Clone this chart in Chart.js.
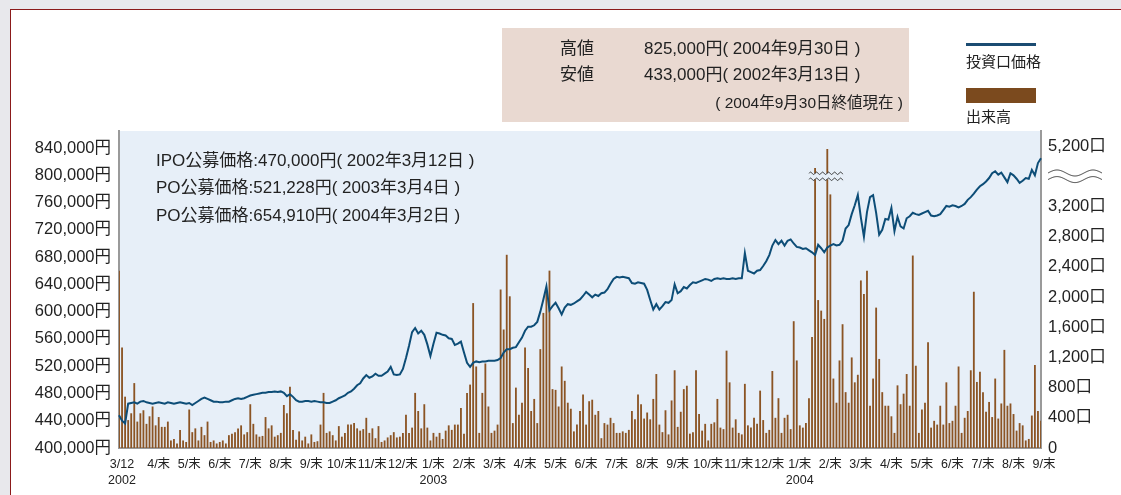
<!DOCTYPE html>
<html lang="ja">
<head>
<meta charset="utf-8">
<script src="https://cdn.jsdelivr.net/npm/chart.js@4.4.1/dist/chart.umd.min.js"></script>
<style>
  html, body { margin: 0; padding: 0; }
  body { width: 1121px; height: 495px; background: #e8e8ec; position: relative; overflow: hidden;
         font-family: 'Liberation Sans', 'Noto Sans CJK JP', sans-serif; color: #222; }
  #panel { position: absolute; left: 10px; top: 9px; width: 1200px; height: 600px; background: #fff;
           border-left: 1px solid #8b1a1a; border-top: 1px solid #8b1a1a; }
  #chart { position: absolute; left: 0; top: 0; }
  .t { position: absolute; white-space: nowrap; line-height: 20px; }
  #info { position: absolute; left: 502px; top: 28px; width: 407px; height: 94px; background: #e9d9d1; }
  .big { font-size: 17px; }
  .note { font-size: 17px; }
</style>
</head>
<body>
<div id="panel"></div>
<canvas id="chart" width="1121" height="495"></canvas>

<div id="info"></div>
<div class="t big" style="left:560px;top:39px">高値</div>
<div class="t big" style="left:644px;top:39px">825,000円( 2004年9月30日 )</div>
<div class="t big" style="left:560px;top:65px">安値</div>
<div class="t big" style="left:644px;top:65px">433,000円( 2002年3月13日 )</div>
<div class="t" style="right:218px;top:93px;font-size:15.5px">( 2004年9月30日終値現在 )</div>

<div style="position:absolute;left:966px;top:43px;width:70px;height:3px;background:#1b4c72"></div>
<div class="t" style="left:966px;top:52px;font-size:15px">投資口価格</div>
<div style="position:absolute;left:966px;top:88px;width:70px;height:15px;background:#7b4a1e"></div>
<div class="t" style="left:966px;top:107px;font-size:15px">出来高</div>

<div class="t note" style="left:156px;top:151px">IPO公募価格:470,000円( 2002年3月12日 )</div>
<div class="t note" style="left:156px;top:178px">PO公募価格:521,228円( 2003年3月4日 )</div>
<div class="t note" style="left:156px;top:206px">PO公募価格:654,910円( 2004年3月2日 )</div>

<script>
// 投資口価格 (千円), ほぼ3営業日ごと, 2002/3/12 - 2004/9/30
const price = [
  448,440,436,465,466,467,465,468,469,467,
  466,465,466,467,466,465,467,466,465,466,
  467,466,465,466,463,466,469,472,474,472,
  470,468,468,467,467,468,468,470,472,473,
  472,473,475,477,478,479,480,481,481,482,
  482,483,482,483,481,476,479,475,470,468,
  468,469,469,468,469,468,467,467,466,466,
  468,470,473,475,477,481,483,487,492,495,
  502,507,503,505,509,506,506,509,512,519,
  508,507,508,516,532,550,570,576,568,572,
  566,552,535,553,569,568,566,565,561,560,
  551,553,556,540,525,519,525,527,526,527,
  527,528,528,528,529,532,540,545,545,547,
  548,555,562,572,578,578,580,585,600,618,
  637,602,608,613,605,596,606,611,610,612,
  615,618,623,629,625,621,625,623,627,628,
  633,641,648,651,650,651,650,649,642,641,
  643,642,641,632,617,603,611,603,608,614,
  613,617,640,627,630,636,634,639,643,642,
  644,646,648,647,645,648,649,648,649,648,
  648,649,648,649,649,686,660,658,656,660,
  661,667,674,683,697,705,699,704,697,704,
  706,700,695,694,692,693,690,687,683,698,
  693,687,694,697,699,697,698,704,722,727,
  743,756,771,738,710,746,768,771,745,713,
  720,736,735,752,718,739,725,722,737,740,
  745,743,742,744,746,748,741,740,741,743,
  749,755,754,756,755,753,755,758,764,768,
  773,779,784,787,791,796,803,806,801,804,
  797,790,803,800,795,789,792,796,795,808,
  800,818,825
];

// 出来高 (口)
const volume = [
  2350,1330,680,370,460,860,350,460,500,320,
  420,550,300,410,280,280,350,100,120,60,
  240,100,80,510,210,260,100,280,170,350,
  80,100,60,80,100,60,170,190,210,260,
  300,180,210,580,320,180,150,160,410,260,
  300,150,170,200,570,460,810,240,110,220,
  100,150,60,180,80,90,310,730,200,220,
  170,100,290,150,200,310,310,330,260,230,
  250,400,200,260,130,290,80,100,140,170,
  210,140,150,200,440,200,270,730,490,260,
  580,270,100,200,150,200,120,230,300,240,
  310,310,530,190,730,840,1920,1080,200,730,
  1120,550,200,230,310,2100,1570,2560,2010,330,
  800,440,600,1330,1060,490,650,330,1310,1790,
  2080,2350,780,770,550,1080,890,600,520,220,
  310,490,710,310,620,640,440,490,130,330,
  310,400,330,200,200,220,200,240,490,380,
  710,580,390,470,380,650,980,310,210,500,
  180,630,1030,280,480,780,825,190,210,1030,
  450,230,320,100,320,340,650,270,250,1290,
  870,270,380,200,180,850,300,270,400,320,
  760,370,200,240,1020,400,660,200,400,440,
  250,1680,1160,300,270,330,660,1470,4910,1960,
  1820,1710,5160,3360,920,600,1160,1640,740,600,
  1200,870,970,2220,2040,2350,560,920,1860,1180,
  740,560,560,420,200,830,580,720,980,560,
  2550,1090,200,510,600,1400,270,360,310,560,
  310,870,330,360,560,1080,200,400,490,1030,
  2070,875,1010,740,480,610,410,920,390,590,
  1300,560,590,450,230,330,300,100,120,430,
  1100,490,360
];

const monthLabels = [['3/12','2002'],'4/末','5/末','6/末','7/末','8/末','9/末','10/末','11/末','12/末',
  ['1/末','2003'],'2/末','3/末','4/末','5/末','6/末','7/末','8/末','9/末','10/末','11/末','12/末',
  ['1/末','2004'],'2/末','3/末','4/末','5/末','6/末','7/末','8/末','9/末'];

const priceTicks = [400,440,480,520,560,600,640,680,720,760,800,840];     // 千円
const volumeTicks = [0,400,800,1200,1600,2000,2400,2800,3200,5200];

// 出来高軸は3,600〜4,800口を省略（波線）
const breakAt = 3600, breakGap = 1200;
const toAxis = v => v > breakAt ? v - breakGap : v;

const bgPlot = '#e7eff8';
const monthIdx = monthLabels.map((_, k) => k === 0 ? 0 : 2 + 10 * k);

function wave(ctx, x0, x1, y, amp, period) {
  ctx.beginPath();
  for (let x = x0; x <= x1; x += 0.5) {
    const yy = y - amp * Math.sin((x - x0) / period * 2 * Math.PI);
    if (x === x0) ctx.moveTo(x, yy); else ctx.lineTo(x, yy);
  }
  ctx.stroke();
}

const deco = {
  id: 'deco',
  beforeDraw(chart) {
    const a = chart.chartArea, ctx = chart.ctx;
    ctx.save();
    ctx.fillStyle = bgPlot;
    ctx.fillRect(a.left, a.top, a.right - a.left, a.bottom - a.top);
    ctx.restore();
  },
  afterDatasetsDraw(chart) {
    const ctx = chart.ctx, x = chart.scales.x, y2 = chart.scales.y2;
    const big = volume.map((v, i) => v > breakAt ? i : -1).filter(i => i >= 0);
    if (!big.length) return;
    const yb = y2.getPixelForValue(breakAt);
    const x0 = x.getPixelForValue(big[0]) - 6, x1 = x.getPixelForValue(big[big.length - 1]) + 16;
    ctx.save();
    ctx.fillStyle = bgPlot;
    ctx.fillRect(x0, yb - 3, x1 - x0, 6);
    ctx.strokeStyle = '#333';
    ctx.lineWidth = 1;
    wave(ctx, x0, x1, yb - 3, 1.2, 6);
    wave(ctx, x0, x1, yb + 3, 1.2, 6);
    ctx.restore();
  },
  afterDraw(chart) {
    const ctx = chart.ctx, a = chart.chartArea, y2 = chart.scales.y2;
    const yb = y2.getPixelForValue(breakAt);
    ctx.save();
    ctx.strokeStyle = '#333';
    ctx.lineWidth = 1;
    wave(ctx, a.right + 7, a.right + 61, yb - 3.3, 3, 36);
    wave(ctx, a.right + 7, a.right + 61, yb + 3.3, 3, 36);
    ctx.restore();
  }
};

Chart.defaults.font.family = "'Liberation Sans', 'Noto Sans CJK JP', sans-serif";
Chart.defaults.color = '#222';

new Chart(document.getElementById('chart'), {
  type: 'bar',
  data: {
    labels: price.map((_, i) => i),
    datasets: [
      {
        type: 'line',
        label: '投資口価格',
        data: price,
        yAxisID: 'y',
        borderColor: '#0d4d77',
        borderWidth: 2,
        pointRadius: 0,
        tension: 0,
        order: 0
      },
      {
        type: 'bar',
        label: '出来高',
        data: volume.map(toAxis),
        yAxisID: 'y2',
        backgroundColor: '#8b5424',
        barPercentage: 0.6,
        categoryPercentage: 1,
        order: 1
      }
    ]
  },
  options: {
    responsive: false,
    animation: false,
    layout: { padding: { top: 131, left: 0, right: 0, bottom: 0 } },
    plugins: { legend: { display: false }, tooltip: { enabled: false } },
    scales: {
      x: {
        offset: false,
        grid: { display: false, drawTicks: false },
        border: { display: true, color: '#9a9a9a', width: 2 },
        afterBuildTicks: ax => { ax.ticks = monthIdx.map(v => ({ value: v })); },
        afterFit: ax => { ax.height = 47; },
        ticks: {
          autoSkip: false, maxRotation: 0, padding: 9, labelOffset: 3,
          font: { size: 12.5, lineHeight: '16px' },
          callback: (v, i) => monthLabels[i]
        }
      },
      y: {
        position: 'left',
        min: 400, max: 865,
        grid: { display: false, drawTicks: false },
        border: { display: true, color: '#9a9a9a', width: 2 },
        afterBuildTicks: ax => { ax.ticks = priceTicks.map(v => ({ value: v })); },
        afterFit: ax => { ax.width = 119; },
        ticks: {
          autoSkip: false, padding: 8, font: { size: 16.5 },
          callback: v => (v * 1000).toLocaleString('en-US') + '円'
        }
      },
      y2: {
        position: 'right',
        min: 0, max: 4200,
        grid: { display: false, drawTicks: false },
        border: { display: true, color: '#9a9a9a', width: 2 },
        afterBuildTicks: ax => { ax.ticks = volumeTicks.map(v => ({ value: toAxis(v) })); },
        afterFit: ax => { ax.width = 80; },
        ticks: {
          autoSkip: false, padding: 7, font: { size: 16.5 },
          callback: (v, i) => volumeTicks[i] === 0 ? '0' : volumeTicks[i].toLocaleString('en-US') + '口'
        }
      }
    }
  },
  plugins: [deco]
});
</script>
</body>
</html>
